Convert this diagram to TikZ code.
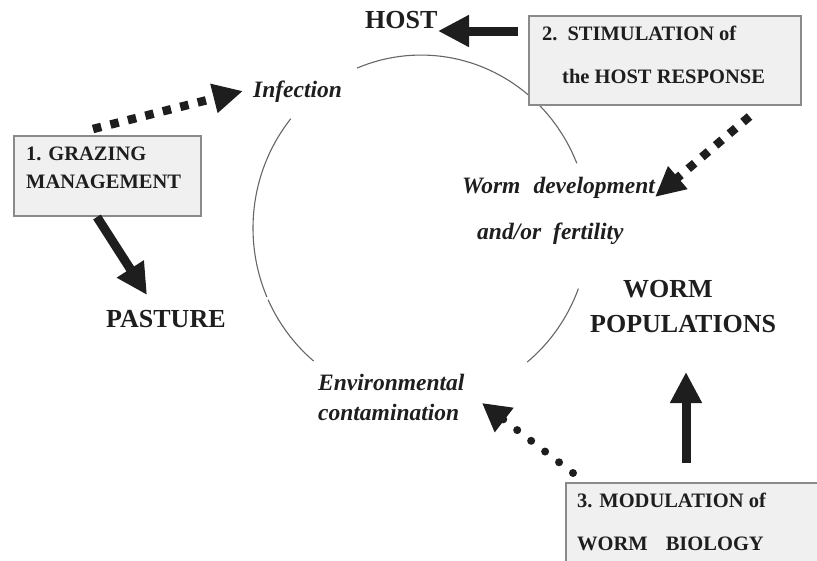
\documentclass[tikz,border=0pt]{standalone}
\usepackage{fontspec}
\setmainfont{Liberation Serif}
\usetikzlibrary{arrows.meta}
\definecolor{ink}{HTML}{1E1E1E}
\definecolor{boxfill}{HTML}{F0F0F0}
\definecolor{boxline}{HTML}{8A8A8A}
\definecolor{ringc}{HTML}{666666}
\begin{document}
\begin{tikzpicture}[x=1pt,y=1pt,
  big/.style={font=\fontsize{26}{26}\selectfont\bfseries, text=ink, inner sep=0pt, anchor=base west},
  boxtxt/.style={font=\fontsize{20.5}{20.5}\selectfont\bfseries, text=ink, inner sep=0pt, anchor=base west},
  stage/.style={font=\fontsize{23.5}{23.5}\selectfont\bfseries\itshape, text=ink, inner sep=0pt, anchor=base west},
  panel/.style={draw=boxline, line width=1.5pt, fill=boxfill, inner sep=0pt, anchor=north west},
  ring/.style={draw=ringc, line width=1.1pt},
  solidarrow/.style={draw=ink, line width=9pt, -{Triangle[length=31pt,width=30pt]}},
  squaredots/.style={draw=ink, line width=8.5pt, dash pattern=on 8.5pt off 9.5pt, -{Triangle[length=30pt,width=28pt]}},
  rounddots/.style={draw=ink, line width=8pt, line cap=round, dash pattern=on 0pt off 17.6pt, -{Triangle[length=28pt,width=29pt]}}]
\useasboundingbox (0,0) rectangle (817,-560);
\clip (0,0) rectangle (817,-560);
% cycle ring (ellipse centre (421,-228), radii 168 / 173)
\draw[ring] (357.0,-68.1) arc[start angle=112.4, end angle=22, x radius=168, y radius=173];
\draw[ring] (290.8,-118.7) arc[start angle=140.8, end angle=203.5, x radius=168, y radius=173];
\draw[ring] (268.1,-299.7) arc[start angle=204.5, end angle=230.3, x radius=168, y radius=173];
\draw[ring] (527.2,-362.1) arc[start angle=-50.8, end angle=-20.5, x radius=168, y radius=173];
% panels
\node[panel, minimum width=187pt, minimum height=80pt] (box1) at (13,-135) {};
\node[panel, minimum width=272pt, minimum height=89pt] (box2) at (528,-15) {};
\node[panel, minimum width=280pt, minimum height=100pt] (box3) at (565,-482) {};
% panel texts
\node[boxtxt] (g1) at (26,-160) {1. GRAZING};
\node[boxtxt] (g2) at (26,-188) {MANAGEMENT};
\node[boxtxt] (s1) at (542,-40) {2.\hspace{10pt}STIMULATION of};
\node[boxtxt] (s2) at (562,-83) {the HOST RESPONSE};
\node[boxtxt] (m1) at (577,-507) {3. MODULATION of};
\node[boxtxt] (m2) at (577,-550) {WORM\hspace{18pt}BIOLOGY};
% labels
\node[big] (host) at (365,-28) {HOST};
\node[big] (pasture) at (106,-327) {PASTURE};
\node[big] (worm) at (623,-297) {WORM};
\node[big] (pop) at (590,-332) {POPULATIONS};
\node[stage] (inf) at (253,-97) {Infection};
\node[stage] (dev) at (462,-193) {Worm\hspace{13pt}development};
\node[stage] (fert) at (477,-239) {and/or\hspace{12pt}fertility};
\node[stage] (env) at (318,-390) {Environmental};
\node[stage] (cont) at (318,-420) {contamination};
% connector end points
\coordinate (b2out) at (518,-31);
\coordinate (hostin) at (438,-31);
\coordinate (b1down) at (97,-217);
\coordinate (pastin) at (147,-295);
\coordinate (b3up) at (686,-463);
\coordinate (popin) at (686,-372);
\coordinate (b1up) at (93,-129);
\coordinate (infin) at (243,-91);
\coordinate (b2dots) at (749.5,-116.5);
\coordinate (devin) at (655,-197);
\coordinate (b3dots) at (573,-473);
\coordinate (envin) at (482,-403);
% connectors
\draw[solidarrow] (b2out) -- (hostin);
\draw[solidarrow] (b1down) -- (pastin);
\draw[solidarrow] (b3up) -- (popin);
\draw[squaredots] (b1up) -- (infin);
\draw[squaredots] (b2dots) -- (devin);
\draw[rounddots] (b3dots) -- (envin);
\end{tikzpicture}
\end{document}
